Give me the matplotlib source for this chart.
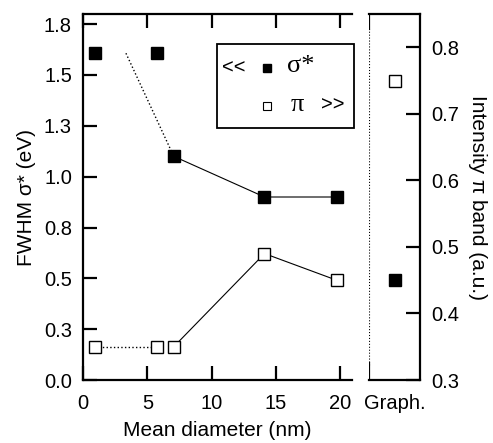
import math
import matplotlib.pyplot as plt
from matplotlib.patches import Rectangle
from matplotlib.ticker import FuncFormatter

plt.rcParams['font.family'] = ['Liberation Sans', 'DejaVu Sans']

# mean diameter of the particles (nm)
diam = [0.93, 5.74, 7.05, 14.1, 19.7]
# FWHM of sigma* band (eV), left axis
fwhm_sigma = [1.607, 1.607, 1.10, 0.90, 0.90]
# intensity of pi band (a.u.), right axis
int_pi = [0.35, 0.35, 0.35, 0.49, 0.45]
# graphite reference values (right panel)
graph_label = ['Graph.']
graph_pi = [0.75]
graph_sigma = [0.45]

sigma_ticks = [0.0, 0.25, 0.5, 0.75, 1.0, 1.25, 1.5, 1.75]
pi_ticks = [0.3, 0.4, 0.5, 0.6, 0.7, 0.8]


def one_dec(v, pos):
    # round half up, so 0.25 shows as 0.3
    return '%.1f' % (math.floor(v * 10 + 0.5 + 1e-9) / 10)


fig = plt.figure(figsize=(4.93, 4.43), dpi=100)
ax = fig.add_axes([0.1684, 0.1422, 0.5456, 0.8262])
ax2 = fig.add_axes([0.7485, 0.1422, 0.1035, 0.8262])
axp = ax.twinx()

lw_sp = 1.6
fs = 14.5
fl = 15

# main panel: sigma* FWHM
ax.set_xlim(0, 20.9)
ax.set_ylim(0, 1.8)
ax.set_yticks(sigma_ticks)
ax.yaxis.set_major_formatter(FuncFormatter(one_dec))
ax.set_xticks([0, 5, 10, 15, 20])
ax.tick_params(direction='in', length=10, width=lw_sp, labelsize=fs,
               top=True, right=False)
ax.tick_params(axis='x', pad=10)
ax.tick_params(axis='y', pad=8)
for s in ['left', 'top', 'bottom']:
    ax.spines[s].set_linewidth(lw_sp)
ax.spines['right'].set_visible(False)

x_mid = (diam[0] + diam[1]) / 2
ax.plot([x_mid, diam[2]], [fwhm_sigma[0], fwhm_sigma[2]], ':', color='k', lw=1)
ax.plot(diam[2:], fwhm_sigma[2:], '-', color='k', lw=0.8)
ax.plot(diam, fwhm_sigma, 's', color='k', ms=8, ls='none', zorder=5)
ax.set_xlabel('Mean diameter (nm)', fontsize=fl, labelpad=6)
ax.set_ylabel('FWHM \u03c3* (eV)', fontsize=fl, labelpad=6)

# pi intensity on hidden twin axis
axp.set_ylim(0.3, 0.85)
axp.axis('off')
axp.plot(diam[:2], int_pi[:2], ':', color='k', lw=1)
axp.plot(diam[2:], int_pi[2:], '-', color='k', lw=0.8)
axp.plot(diam, int_pi, 's', mfc='white', mec='k', mew=1, ms=8, ls='none', zorder=5)

# legend box drawn by hand
serif = ['Liberation Serif', 'DejaVu Serif']
ax.add_patch(Rectangle((0.498, 0.689), 0.51, 0.23, transform=ax.transAxes,
                       fill=False, lw=1.3, clip_on=False, zorder=6))
ax.text(0.518, 0.852, '<<', transform=ax.transAxes, fontsize=14.5, va='center')
ax.plot([0.683], [0.852], 's', color='k', ms=6, transform=ax.transAxes)
ax.text(0.76, 0.857, '\u03c3*', transform=ax.transAxes, fontsize=19,
        va='center', family=serif)
ax.plot([0.683], [0.75], 's', mfc='white', mec='k', mew=0.8, ms=6,
        transform=ax.transAxes)
ax.text(0.772, 0.752, '\u03c0', transform=ax.transAxes, fontsize=19,
        va='center', family=serif)
ax.text(0.885, 0.75, '>>', transform=ax.transAxes, fontsize=14.5, va='center')

# graphite panel
ax2.set_xlim(0, 1)
ax2.set_ylim(0.3, 0.85)
ax2.plot([0.5], graph_pi, 's', mfc='white', mec='k', mew=1, ms=8)
ax2.plot([0.5], graph_sigma, 's', color='k', ms=8)
ax2.set_xticks([0.5])
ax2.set_xticklabels(graph_label)
ax2.set_yticks(pi_ticks)
ax2.yaxis.set_major_formatter(FuncFormatter(one_dec))
ax2.yaxis.tick_right()
ax2.yaxis.set_label_position('right')
ax2.tick_params(axis='y', direction='in', length=10, width=lw_sp,
                labelsize=fs, left=False, right=True, pad=8)
ax2.tick_params(axis='x', length=0, labelsize=fs, pad=10)
for s in ['right', 'top', 'bottom']:
    ax2.spines[s].set_linewidth(lw_sp)
ax2.spines['left'].set_visible(False)
ax2.axvline(0, ymin=0.042, ymax=0.958, ls=':', color='k', lw=0.8)
ax2.axvline(0, ymin=0, ymax=0.046, color='k', lw=lw_sp)
ax2.axvline(0, ymin=0.958, ymax=1, color='k', lw=lw_sp)
ax2.set_ylabel('Intensity \u03c0 band (a.u.)', fontsize=fl, rotation=-90,
               labelpad=20)

fig.savefig('out.png', dpi=100)
